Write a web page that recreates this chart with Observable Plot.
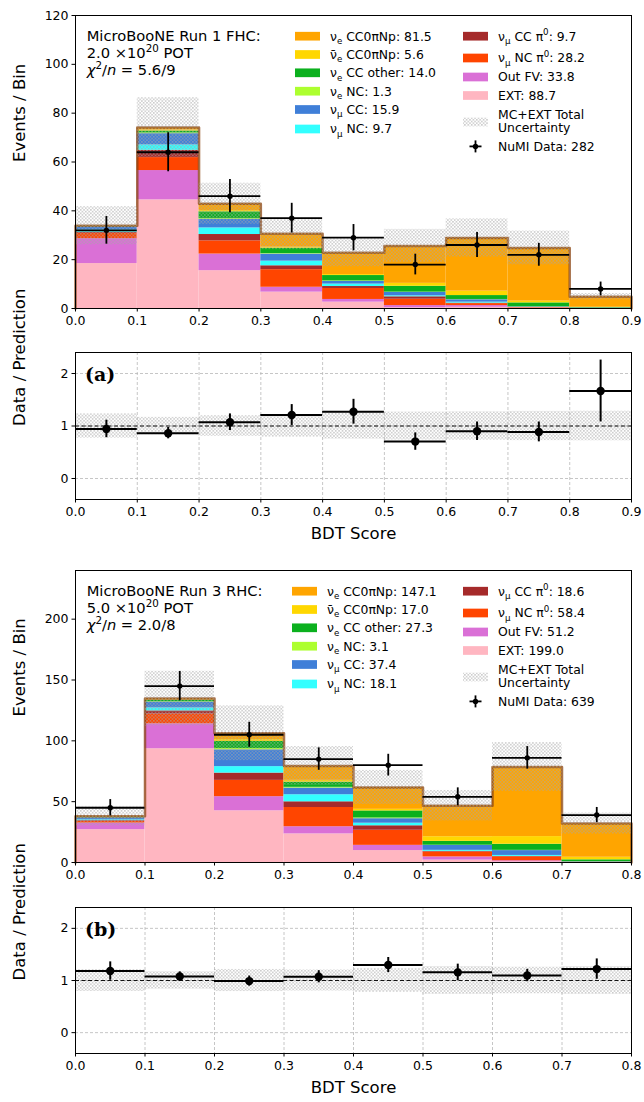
<!DOCTYPE html>
<html>
<head>
<meta charset="utf-8">
<script src="https://cdn.jsdelivr.net/npm/d3@7"></script>
<script src="https://cdn.jsdelivr.net/npm/@observablehq/plot@0.6"></script>
<style>
  html, body { margin: 0; padding: 0; background: #fff; }
  #figure { width: 644px; height: 1102px; overflow: hidden; }
  #figure svg { display: block; }
</style>
</head>
<body>
<div id="figure"></div>
<script>
// ---------- binning, ticks ----------
const edgesRun1 = [0.0, 0.1, 0.2, 0.3, 0.4, 0.5, 0.6, 0.7, 0.8, 0.9];
const edgesRun3 = [0.0, 0.1, 0.2, 0.3, 0.4, 0.5, 0.6, 0.7, 0.8];
const countTicksRun1 = [0, 20, 40, 60, 80, 100, 120];
const countTicksRun3 = [0, 50, 100, 150, 200];
const ratioTicks = [0, 1, 2];

// ---------- event categories (stacking order, bottom to top) ----------
const componentKeys = ["ext", "outFV", "numuNCpi0", "numuCCpi0", "numuNC", "numuCC",
                       "nueNC", "nueCCother", "nuebarCC0piNp", "nueCC0piNp"];
const componentColors = ["#ffb6c1", "#da70d6", "#ff4500", "#a52a2a", "#33ffff", "#3f7fd8",
                         "#adff2f", "#0bb01e", "#ffd700", "#ffa500"];
const componentNames = {
  nueCC0piNp:    [["ν"], ["e", "sub"], [" CC0πNp"]],
  nuebarCC0piNp: [["ν\u0304"], ["e", "sub"], [" CC0πNp"]],
  nueCCother:    [["ν"], ["e", "sub"], [" CC other"]],
  nueNC:         [["ν"], ["e", "sub"], [" NC"]],
  numuCC:        [["ν"], ["μ", "sub"], [" CC"]],
  numuNC:        [["ν"], ["μ", "sub"], [" NC"]],
  numuCCpi0:     [["ν"], ["μ", "sub"], [" CC π"], ["0", "sup"]],
  numuNCpi0:     [["ν"], ["μ", "sub"], [" NC π"], ["0", "sup"]],
  outFV:         [["Out FV"]],
  ext:           [["EXT"]]
};
const legendColumn1 = ["nueCC0piNp", "nuebarCC0piNp", "nueCCother", "nueNC", "numuCC", "numuNC"];
const legendColumn2 = ["numuCCpi0", "numuNCpi0", "outFV", "ext"];

// ---------- Run 1 FHC: predicted events per BDT bin ----------
const run1_ext           = [18.4, 44.5, 15.5, 6.7, 2.6, 0.3, 0.5, 0.1, 0.1];
const run1_outFV         = [10.2, 12.0, 6.8, 2.0, 1.1, 0.9, 0.7, 0.1, 0.0];
const run1_numuNCpi0     = [2.2, 5.3, 5.4, 7.2, 4.5, 2.6, 0.8, 0.2, 0.0];
const run1_numuCCpi0     = [0.4, 3.0, 2.6, 1.6, 0.8, 1.0, 0.2, 0.1, 0.0];
const run1_numuNC        = [1.0, 2.2, 2.7, 1.9, 1.0, 0.4, 0.4, 0.1, 0.0];
const run1_numuCC        = [1.2, 4.6, 3.5, 2.9, 1.1, 1.4, 1.0, 0.1, 0.1];
const run1_nueNC         = [0.1, 0.3, 0.3, 0.2, 0.2, 0.1, 0.1, 0.0, 0.0];
const run1_nueCCother    = [0.2, 0.8, 2.8, 2.2, 2.2, 2.4, 1.6, 1.6, 0.2];
const run1_nuebarCC0piNp = [0.1, 0.4, 0.5, 0.4, 0.4, 1.2, 1.8, 0.7, 0.1];
const run1_nueCC0piNp    = [0.1, 1.0, 2.8, 5.5, 8.9, 15.3, 21.8, 21.8, 4.3];
const run1_data          = [32, 64, 46, 37, 29, 18, 26, 22, 8];
const run1_totalUnc      = [7.8, 12.2, 8.4, 6.5, 5.7, 6.8, 7.8, 6.9, 1.35];

// ---------- Run 3 RHC: predicted events per BDT bin ----------
const run3_ext           = [27.0, 93.5, 42.5, 23.5, 9.8, 2.0, 0.6, 0.1];
const run3_outFV         = [5.4, 20.5, 11.6, 5.9, 4.3, 2.6, 0.8, 0.1];
const run3_numuNCpi0     = [1.4, 8.0, 13.4, 15.8, 12.4, 4.0, 3.3, 0.1];
const run3_numuCCpi0     = [0.6, 2.6, 6.0, 4.7, 3.7, 0.6, 0.3, 0.1];
const run3_numuNC        = [0.7, 2.5, 5.3, 5.8, 2.1, 0.8, 0.8, 0.1];
const run3_numuCC        = [1.6, 4.7, 13.8, 5.5, 3.7, 4.0, 4.0, 0.1];
const run3_nueNC         = [0.1, 0.3, 1.1, 0.6, 0.6, 0.2, 0.2, 0.0];
const run3_nueCCother    = [0.6, 1.1, 5.8, 4.2, 5.8, 3.2, 5.0, 1.6];
const run3_nuebarCC0piNp = [0.1, 0.4, 1.5, 1.5, 1.3, 3.8, 6.3, 2.1];
const run3_nueCC0piNp    = [0.6, 1.1, 5.2, 11.8, 18.0, 25.5, 57.2, 27.7];
const run3_data          = [45, 145, 105, 85, 80, 54, 86, 39];
const run3_totalUnc      = [8.0, 22.5, 22.5, 16.0, 14.0, 12.5, 20.0, 8.6];

// ---------- run descriptions ----------
const runTitles = ["MicroBooNE Run 1 FHC:", "MicroBooNE Run 3 RHC:"];
const runPOT = ["2.0", "5.0"];
const runChi2 = ["5.6/9", "2.0/8"];
const panelTags = ["(a)", "(b)"];

const FONT = "DejaVu Sans";
const W = 644, ML = 75, MR = 13;

function collectRun(edges, comps, data, unc) {
  const bins = [];
  const rects = [];
  for (let i = 0; i < data.length; i++) {
    let acc = 0;
    comps.forEach((arr, k) => {
      rects.push({x1: edges[i], x2: edges[i + 1], y1: acc, y2: acc + arr[i], color: componentColors[k]});
      acc += arr[i];
    });
    const dataErr = Math.sqrt(data[i]);
    bins.push({
      x1: edges[i], x2: edges[i + 1], xm: (edges[i] + edges[i + 1]) / 2,
      total: acc, unc: unc[i], data: data[i], dataErr,
      ratio: data[i] / acc, ratioErr: dataErr / acc, relUnc: unc[i] / acc
    });
  }
  const outline = [{x: edges[0], y: 0}];
  bins.forEach(b => outline.push({x: b.x1, y: b.total}, {x: b.x2, y: b.total}));
  outline.push({x: edges[edges.length - 1], y: 0});
  return {bins, rects, outline};
}

// dotted hatch used for the MC+EXT uncertainty band
function addHatch(svg, id) {
  const defs = d3.select(svg).insert("defs", ":first-child");
  const p = defs.append("pattern").attr("id", id)
    .attr("patternUnits", "userSpaceOnUse").attr("width", 3.4).attr("height", 3.4);
  p.append("rect").attr("x", 0.2).attr("y", 0.2).attr("width", 1.2).attr("height", 1.2).attr("fill", "#a6a6a6");
  p.append("rect").attr("x", 1.9).attr("y", 1.9).attr("width", 1.2).attr("height", 1.2).attr("fill", "#a6a6a6");
}

function richText(g, x, y, segs, size, extra = {}) {
  const t = g.append("text").attr("x", x).attr("y", y).attr("font-size", size)
    .attr("fill", "black").attr("text-anchor", "start").style("white-space", "pre");
  for (const [k, v] of Object.entries(extra)) t.attr(k, v);
  let shift = 0;
  for (const [s, kind = ""] of segs) {
    const target = kind === "sub" ? 0.28 * size : kind === "sup" ? -0.42 * size : 0;
    const ts = t.append("tspan").attr("dy", (target - shift).toFixed(2)).text(s);
    if (kind === "sub" || kind === "sup") ts.attr("font-size", (size * 0.7).toFixed(2));
    if (kind === "it") ts.attr("font-style", "italic");
    shift = target;
  }
  return t;
}

function fmt1(v) { return (Math.round(v * 10) / 10).toFixed(1); }

function topPanel(cfg) {
  const {edges, comps, data, unc, yDomain, yTicks, height, mt, mb, id, run, col1x} = cfg;
  const {bins, rects, outline} = collectRun(edges, comps, data, unc);
  const svg = Plot.plot({
    width: W, height, marginLeft: ML, marginRight: MR, marginTop: mt, marginBottom: mb,
    style: {fontFamily: FONT, fontSize: "12.5px", color: "black", background: "white", overflow: "visible"},
    x: {domain: [edges[0], edges[edges.length - 1]]},
    y: {domain: yDomain},
    color: {type: "identity"},
    marks: [
      Plot.rect(rects, {x1: "x1", x2: "x2", y1: "y1", y2: "y2", fill: "color"}),
      Plot.line(outline, {x: "x", y: "y", stroke: "#8b4513", strokeOpacity: 0.75, strokeWidth: 2.5}),
      Plot.rect(bins, {x1: "x1", x2: "x2", y1: d => d.total - d.unc, y2: d => d.total + d.unc, fill: `url(#${id})`}),
      Plot.ruleY(bins, {x1: "x1", x2: "x2", y: "data", stroke: "black", strokeWidth: 1.8}),
      Plot.ruleX(bins, {x: "xm", y1: d => d.data - d.dataErr, y2: d => d.data + d.dataErr, stroke: "black", strokeWidth: 1.8}),
      Plot.dot(bins, {x: "xm", y: "data", r: 2.7, fill: "black"}),
      Plot.axisX({ticks: edges, tickFormat: d3.format(".1f"), tickSize: 3.5, tickPadding: 4, label: null}),
      Plot.axisY({ticks: yTicks, tickFormat: d3.format("d"), tickSize: 3.5, tickPadding: 3.5, label: null}),
      Plot.frame({stroke: "black", strokeWidth: 1}),
      Plot.text(["Events / Bin"], {text: d => d, frameAnchor: "left", dx: -56, rotate: -90, fontSize: 16.5})
    ]
  });
  addHatch(svg, id);

  // legend and run information
  const g = d3.select(svg).append("g").attr("font-family", FONT).attr("text-anchor", "start");
  const left = ML, top = mt, fs = 12.4, base = 0.36 * fs;
  richText(g, left + 11.7, top + 26, [[runTitles[run]]], 14.7);
  richText(g, left + 11.7, top + 43, [[runPOT[run] + " ×10"], ["20", "sup"], [" POT"]], 14.7);
  richText(g, left + 11.7, top + 60.3, [["χ", "it"], ["2", "sup"], ["/"], ["n", "it"], [" = " + runChi2[run]]], 14.7);

  const byKey = Object.fromEntries(componentKeys.map((k, i) => [k, {arr: comps[i], color: componentColors[i]}]));
  const rows1 = [21.2, 39.5, 57.8, 76.2, 94.5, 114];
  legendColumn1.forEach((k, i) => {
    const cy = top + rows1[i];
    g.append("rect").attr("x", left + col1x).attr("y", cy - 4.35).attr("width", 25).attr("height", 8.7).attr("fill", byKey[k].color);
    richText(g, left + col1x + 35, cy + base, [...componentNames[k], [": " + fmt1(d3.sum(byKey[k].arr))]], fs);
  });
  const rows2 = [21.2, 43, 62, 80.5];
  const c2 = 388;
  legendColumn2.forEach((k, i) => {
    const cy = top + rows2[i];
    g.append("rect").attr("x", left + c2).attr("y", cy - 4.35).attr("width", 25).attr("height", 8.7).attr("fill", byKey[k].color);
    richText(g, left + c2 + 35, cy + base, [...componentNames[k], [": " + fmt1(d3.sum(byKey[k].arr))]], fs);
  });
  const cyU = top + 107;
  g.append("rect").attr("x", left + c2).attr("y", cyU - 4.35).attr("width", 25).attr("height", 8.7).attr("fill", `url(#${id})`);
  richText(g, left + c2 + 35, top + 99.3 + base, [["MC+EXT Total"]], fs);
  richText(g, left + c2 + 35, top + 113 + base, [["Uncertainty"]], fs);
  const cyD = top + 131.4, cxD = left + c2 + 12.5;
  g.append("line").attr("x1", cxD - 6).attr("x2", cxD + 6).attr("y1", cyD).attr("y2", cyD).attr("stroke", "black").attr("stroke-width", 1.8);
  g.append("line").attr("x1", cxD).attr("x2", cxD).attr("y1", cyD - 6).attr("y2", cyD + 6).attr("stroke", "black").attr("stroke-width", 1.8);
  g.append("circle").attr("cx", cxD).attr("cy", cyD).attr("r", 2.7).attr("fill", "black");
  richText(g, left + c2 + 35, cyD + base, [["NuMI Data: " + d3.sum(data)]], fs);
  return svg;
}

function ratioPanel(cfg) {
  const {edges, comps, data, unc, height, mt, mb, id, run} = cfg;
  const {bins} = collectRun(edges, comps, data, unc);
  const gridStyle = {stroke: "#b8b8b8", strokeOpacity: 1, strokeWidth: 0.8, strokeDasharray: "3,2"};
  const svg = Plot.plot({
    width: W, height, marginLeft: ML, marginRight: MR, marginTop: mt, marginBottom: mb,
    style: {fontFamily: FONT, fontSize: "12.5px", color: "black", background: "white", overflow: "visible"},
    x: {domain: [edges[0], edges[edges.length - 1]]},
    y: {domain: [-0.4, 2.4]},
    marks: [
      Plot.gridX(edges, gridStyle),
      Plot.gridY(ratioTicks, gridStyle),
      Plot.rect(bins, {x1: "x1", x2: "x2", y1: d => 1 - d.relUnc, y2: d => 1 + d.relUnc, fill: `url(#${id})`}),
      Plot.ruleY([1], {stroke: "#111", strokeWidth: 1.2, strokeDasharray: "4,2.5"}),
      Plot.ruleY(bins, {x1: "x1", x2: "x2", y: "ratio", stroke: "black", strokeWidth: 2}),
      Plot.ruleX(bins, {x: "xm", y1: d => d.ratio - d.ratioErr, y2: d => d.ratio + d.ratioErr, stroke: "black", strokeWidth: 2}),
      Plot.dot(bins, {x: "xm", y: "ratio", r: 4.2, fill: "black"}),
      Plot.axisX({ticks: edges, tickFormat: d3.format(".1f"), tickSize: 3.5, tickPadding: 4, label: null}),
      Plot.axisY({ticks: ratioTicks, tickFormat: d3.format("d"), tickSize: 3.5, tickPadding: 3.5, label: null}),
      Plot.frame({stroke: "black", strokeWidth: 1}),
      Plot.text(["Data / Prediction"], {text: d => d, frameAnchor: "left", dx: -56, rotate: -90, fontSize: 16.5}),
      Plot.text(["BDT Score"], {text: d => d, frameAnchor: "bottom", dy: 39, fontSize: 16.5})
    ]
  });
  addHatch(svg, id);
  d3.select(svg).append("text").attr("x", ML + 10).attr("y", mt + 29).attr("text-anchor", "start")
    .attr("font-family", "DejaVu Serif").attr("font-weight", "bold").attr("font-size", 19)
    .attr("fill", "black").text(panelTags[run]);
  return svg;
}

const run1Comps = [run1_ext, run1_outFV, run1_numuNCpi0, run1_numuCCpi0, run1_numuNC, run1_numuCC,
                   run1_nueNC, run1_nueCCother, run1_nuebarCC0piNp, run1_nueCC0piNp];
const run3Comps = [run3_ext, run3_outFV, run3_numuNCpi0, run3_numuCCpi0, run3_numuNC, run3_numuCC,
                   run3_nueNC, run3_nueCCother, run3_nuebarCC0piNp, run3_nueCC0piNp];

const fig = document.getElementById("figure");
fig.append(topPanel({edges: edgesRun1, comps: run1Comps, data: run1_data, unc: run1_totalUnc,
  yDomain: [0, 120], yTicks: countTicksRun1, height: 340, mt: 15, mb: 32, id: "unc-run1", run: 0, col1x: 220}));
fig.append(ratioPanel({edges: edgesRun1, comps: run1Comps, data: run1_data, unc: run1_totalUnc,
  height: 210, mt: 12, mb: 51, id: "unc-run1-ratio", run: 0}));
fig.append(topPanel({edges: edgesRun3, comps: run3Comps, data: run3_data, unc: run3_totalUnc,
  yDomain: [0, 240], yTicks: countTicksRun3, height: 340, mt: 20, mb: 28, id: "unc-run3", run: 1, col1x: 217}));
fig.append(ratioPanel({edges: edgesRun3, comps: run3Comps, data: run3_data, unc: run3_totalUnc,
  height: 212, mt: 17, mb: 49, id: "unc-run3-ratio", run: 1}));
</script>
</body>
</html>
